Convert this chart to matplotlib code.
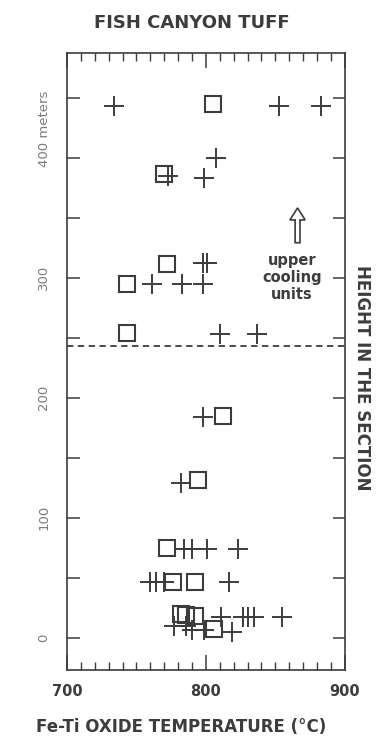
import matplotlib
matplotlib.use("Agg")
import matplotlib.pyplot as plt
import matplotlib.transforms as mtransforms
from matplotlib.ticker import MultipleLocator

# measured points: temperature (C) vs height in the section (m)
plus_temp = [734, 853, 883,
             807, 773, 799,
             798, 801,
             761, 783, 798,
             810, 837,
             798,
             782,
             784, 790, 801, 823,
             760, 764, 770, 817,
             811, 827, 830, 835, 855,
             777, 786,
             790, 799, 819]
plus_height = [443, 443, 443,
               400, 385, 383,
               312, 312,
               295, 295, 295,
               253, 253,
               184,
               129,
               74, 74, 74, 74,
               46, 46, 46, 46,
               17, 17, 17, 17, 17,
               10, 10,
               6, 6, 5]

square_temp = [805, 770, 772, 743, 743, 812, 794, 772, 776, 792, 782, 786, 792, 806]
square_height = [445, 386, 311, 295, 254, 185, 131, 75, 46, 46, 20, 19, 18, 7]

boundary = 243  # base of the upper cooling units

x_ticks = [700, 800, 900]
y_ticks = [0, 50, 100, 150, 200, 250, 300, 350, 400, 450]
y_labels = ["0", "", "100", "", "200", "", "300", "", "", ""]

ink = "#3c3c3c"
grey = "#7a7a7a"

fig = plt.figure(figsize=(3.76, 7.45), dpi=100)
ax = fig.add_axes([0.178, 0.1007, 0.739, 0.828])

ax.plot(plus_temp, plus_height, ls="none", marker="+", ms=14.5, mew=1.4, color=ink)
ax.plot(square_temp, square_height, ls="none", marker="s", ms=12, mew=1.5,
        mfc="none", mec=ink)
ax.axhline(boundary, color=ink, lw=1.3, dashes=(3.5, 2.5))

# hollow arrow pointing up + note
ax.arrow(866, 329, 0, 29, width=3.5, head_width=11, head_length=10,
         length_includes_head=True, fc="white", ec=ink, lw=1.2)
ax.text(862, 300, "upper\ncooling\nunits", ha="center", va="center",
        fontsize=10.5, fontweight="bold", color=ink, linespacing=1.2)

ax.set_xlim(700, 900)
ax.set_ylim(-27, 487)

ax.set_xticks(x_ticks)
ax.xaxis.set_minor_locator(MultipleLocator(10))
ax.set_xticklabels([str(t) for t in x_ticks], fontsize=10.5, fontweight="bold", color=ink)
ax.set_yticks(y_ticks)
ax.set_yticklabels(y_labels, rotation=90, va="center", fontsize=9.5, color=grey)

ax.tick_params(axis="x", which="major", direction="in", top=True, bottom=True,
               length=11, width=1.1, color=ink, pad=10)
ax.tick_params(axis="x", which="minor", direction="in", top=True, bottom=True,
               length=6, width=1.0, color=ink)
ax.tick_params(axis="y", which="major", direction="in", left=True, right=True,
               length=9, width=1.1, color=ink, pad=12)

for sp in ax.spines.values():
    sp.set_linewidth(1.2)
    sp.set_color(ink)

trans = mtransforms.blended_transform_factory(ax.transAxes, ax.transData)
ax.text(-0.079, 392, "400 meters", transform=trans, rotation=90,
        ha="center", va="bottom", fontsize=9.5, color=grey)

fig.text(0.51, 0.969, "FISH CANYON TUFF", ha="center", va="center",
         fontsize=13, fontweight="bold", color=ink)
fig.text(0.483, 0.024, "Fe-Ti OXIDE TEMPERATURE (°C)", ha="center", va="center",
         fontsize=12, fontweight="bold", color=ink)
fig.text(0.963, 0.493, "HEIGHT IN THE SECTION", ha="center", va="center",
         rotation=-90, fontsize=12, fontweight="bold", color=ink)

fig.savefig("out.png", dpi=100, facecolor="white")
